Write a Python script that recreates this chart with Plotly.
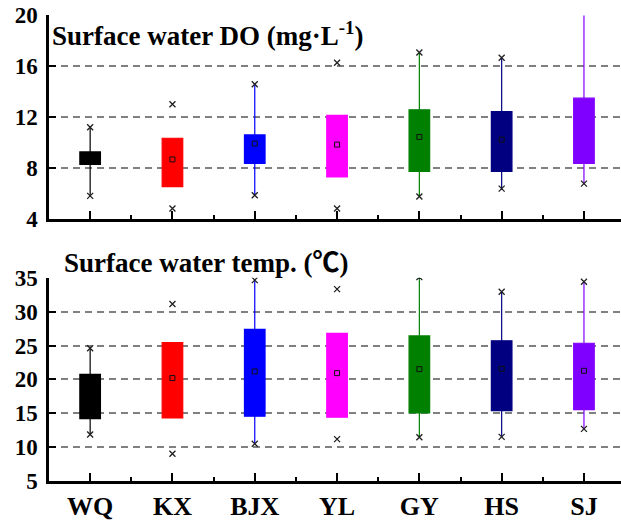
import plotly.graph_objects as go

# Sampling sites
sites = ["WQ", "KX", "BJX", "YL", "GY", "HS", "SJ"]
site_colors = ["#000000", "#FF0000", "#0000FF", "#FF00FF", "#008000", "#000080", "#8000FF"]

# Surface water dissolved oxygen (mg/L)
do_q1 = [8.29, 6.55, 8.36, 7.30, 7.74, 7.74, 8.36]
do_median = [8.80, 8.68, 9.92, 9.84, 10.44, 10.23, 10.90]
do_q3 = [9.27, 10.34, 10.60, 12.13, 12.57, 12.42, 13.48]
do_whisker_lo = [5.82, 6.55, 5.87, 7.30, 5.77, 6.29, 6.78]
do_whisker_hi = [11.20, 10.34, 14.57, 12.13, 17.06, 16.65, 19.97]
do_mean = [None, 8.68, 9.92, 9.84, 10.44, 10.23, None]
do_min = [5.82, 4.83, 5.87, 4.83, 5.77, 6.39, 6.78]
do_max = [11.20, 13.00, 14.57, 16.26, 17.06, 16.65, None]

# Surface water temperature (deg C)
tp_q1 = [14.22, 14.31, 14.56, 14.41, 15.05, 15.39, 15.54]
tp_median = [17.50, 20.20, 21.18, 20.93, 21.52, 21.57, 21.27]
tp_q3 = [20.74, 25.44, 27.40, 26.81, 26.42, 25.69, 25.34]
tp_whisker_lo = [11.86, 14.31, 10.49, 14.41, 11.47, 11.52, 12.70]
tp_whisker_hi = [24.60, 25.44, 34.66, 26.81, 35.10, 32.94, 34.41]
tp_mean = [None, 20.20, 21.18, 20.93, 21.52, 21.57, 21.27]
tp_min = [11.86, 9.02, 10.49, 11.18, 11.47, 11.52, 12.70]
tp_max = [24.60, 31.13, 34.66, 33.33, 35.10, 32.94, 34.41]

positions = list(range(len(sites)))

FONT = "Liberation Serif, Times New Roman, Noto Sans CJK SC, serif"

fig = go.Figure()


def add_panel(q1, med, q3, lo, hi, mean, vmin, vmax, xa, ya):
    for i, c in enumerate(site_colors):
        fig.add_trace(go.Box(
            x=[positions[i]], q1=[q1[i]], median=[med[i]], q3=[q3[i]],
            lowerfence=[lo[i]], upperfence=[hi[i]],
            width=0.25, whiskerwidth=0, fillcolor=c,
            line=dict(color=c, width=1.2),
            boxpoints=False, showlegend=False, xaxis=xa, yaxis=ya,
            hoverinfo="skip",
        ))
    fig.add_trace(go.Scatter(
        x=positions + positions, y=vmin + vmax, mode="markers",
        marker=dict(symbol="x-thin-open", size=6, color="#202020",
                    line=dict(width=1.3, color="#202020")),
        showlegend=False, xaxis=xa, yaxis=ya, hoverinfo="skip",
    ))
    fig.add_trace(go.Scatter(
        x=positions, y=mean, mode="markers",
        marker=dict(symbol="square-open", size=5, color="#111111",
                    line=dict(width=1, color="#111111")),
        showlegend=False, xaxis=xa, yaxis=ya, hoverinfo="skip",
    ))


add_panel(do_q1, do_median, do_q3, do_whisker_lo, do_whisker_hi, do_mean, do_min, do_max, "x", "y")
add_panel(tp_q1, tp_median, tp_q3, tp_whisker_lo, tp_whisker_hi, tp_mean, tp_min, tp_max, "x2", "y2")

grid = dict(showgrid=True, griddash="7px,5px", gridcolor="#808080", gridwidth=1.5,
            ticks="inside", ticklen=7, tickwidth=2, tickcolor="black")

xcommon = dict(
    range=[-0.5, 6.45], tickmode="array", tickvals=positions, ticktext=sites,
    ticks="inside", ticklen=8, tickwidth=2, tickcolor="black",
    showline=True, linecolor="black", linewidth=2.5, showgrid=False, zeroline=False,
    minor=dict(tick0=0.5, dtick=1, ticks="inside", ticklen=4, tickwidth=2, tickcolor="black"),
    tickfont=dict(family=FONT, size=26, color="black", weight="bold"),
)
ycommon = dict(
    showline=True, linecolor="black", linewidth=2.5, showgrid=False, zeroline=False,
    ticks="inside", ticklen=7, tickwidth=2, tickcolor="black", ticklabelstandoff=4,
    tickfont=dict(family=FONT, size=23, color="black", weight="bold"),
)

fig.update_layout(
    width=621, height=521,
    margin=dict(l=49, r=0, t=15, b=38),
    paper_bgcolor="white", plot_bgcolor="white",
    boxmode="overlay",
    xaxis=dict(xcommon, domain=[0, 1], anchor="y", showticklabels=False),
    yaxis=dict(ycommon, domain=[0.562, 1], range=[4, 20], tickvals=[4, 8, 12, 16, 20],
               minor=dict(grid, tickvals=[8, 12, 16])),
    xaxis2=dict(xcommon, domain=[0, 1], anchor="y2"),
    yaxis2=dict(ycommon, domain=[0, 0.436], range=[5, 35], tickvals=[5, 10, 15, 20, 25, 30, 35],
                minor=dict(grid, tickvals=[10, 15, 20, 25, 30])),
)

fig.add_annotation(
    text="Surface water DO (mg·L<sup>-1</sup>)", xref="paper", yref="paper",
    x=0, y=1, xanchor="left", yanchor="top", xshift=1, yshift=0, showarrow=False,
    font=dict(family=FONT, size=27, color="black", weight="bold"),
)
fig.add_annotation(
    text="Surface water temp. (℃)", xref="paper", yref="paper",
    x=0, y=0.436, xanchor="left", yanchor="bottom", xshift=13, yshift=-2, showarrow=False,
    font=dict(family=FONT, size=27, color="black", weight="bold"),
)

fig.write_html("out.html")
